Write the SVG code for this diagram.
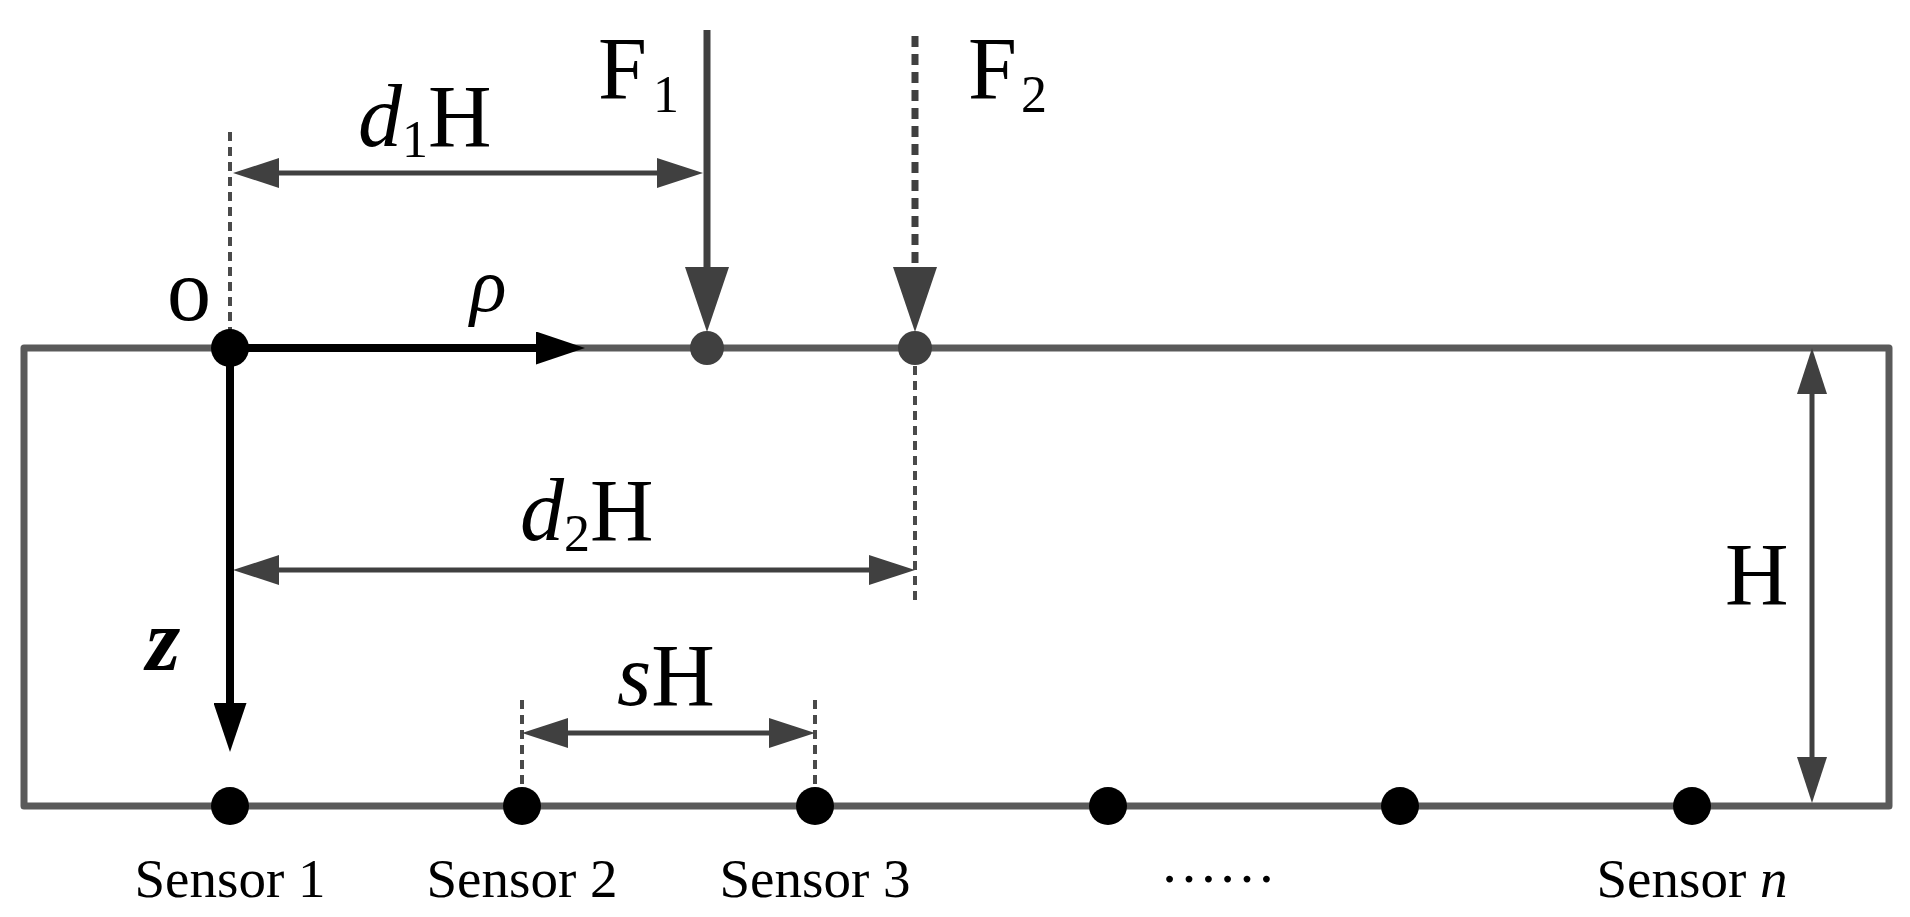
<svg xmlns="http://www.w3.org/2000/svg" width="1910" height="917" viewBox="0 0 1910 917">
<style>
text{font-family:"Liberation Serif","Times New Roman",serif;fill:#000}
.big{font-size:88px}
.lbl{font-size:55px;text-anchor:middle}
.it{font-style:italic}
.dim{stroke:#404040;stroke-width:5;fill:none;marker-start:url(#ad);marker-end:url(#ad)}
.guide{stroke:#4a4a4a;stroke-width:4;stroke-dasharray:9 6;fill:none}
.axis{stroke:#000;stroke-width:8;fill:none;marker-end:url(#ax)}
.force{stroke:#404040;stroke-width:7;fill:none;marker-end:url(#af)}
</style>
<defs>
<marker id="ad" markerUnits="userSpaceOnUse" markerWidth="46" markerHeight="30" viewBox="0 0 46 30" refX="6" refY="15" orient="auto-start-reverse"><path d="M0,0 L46,15 L0,30 Z" fill="#404040"/></marker>
<marker id="af" markerUnits="userSpaceOnUse" markerWidth="65" markerHeight="44" viewBox="0 0 65 44" refX="5" refY="22" orient="auto"><path d="M0,0 L65,22 L0,44 Z" fill="#404040"/></marker>
<marker id="ax" markerUnits="userSpaceOnUse" markerWidth="49" markerHeight="33" viewBox="0 0 49 33" refX="9" refY="16.5" orient="auto"><path d="M0,0 L49,16.5 L0,33 Z" fill="#000"/></marker>
</defs>
<rect width="1910" height="917" fill="#fff"/>
<g id="body">
<rect x="24" y="348" width="1865" height="458" fill="none" stroke="#5a5a5a" stroke-width="7" stroke-linejoin="round"/>
</g>
<g id="connectors">
<line class="guide" x1="230" y1="132" x2="230" y2="330"/>
<line class="guide" x1="915" y1="366" x2="915" y2="604"/>
<line class="guide" x1="522" y1="700" x2="522" y2="790"/>
<line class="guide" x1="815" y1="700" x2="815" y2="790"/>
<line class="dim" x1="273" y1="173" x2="663" y2="173"/>
<line class="dim" x1="273" y1="570" x2="875" y2="570"/>
<line class="dim" x1="562" y1="733" x2="775" y2="733"/>
<line class="dim" x1="1812" y1="388" x2="1812" y2="763"/>
<line class="force" x1="707" y1="30" x2="707" y2="272"/>
<line class="force" x1="915" y1="36" x2="915" y2="272" stroke-dasharray="11 7"/>
<line class="axis" x1="230" y1="348" x2="545" y2="348"/>
<line class="axis" x1="230" y1="348" x2="230" y2="712"/>
</g>
<g id="origin"><circle cx="230" cy="348" r="19" fill="#000"/><text class="big" x="167" y="320">o</text><text class="it" x="470" y="311" font-size="76">ρ</text><text class="it" x="146" y="670" font-size="88" font-weight="bold">z</text></g>
<g id="load-points"><circle cx="707" cy="348" r="17" fill="#404040"/><circle cx="915" cy="348" r="17" fill="#404040"/></g>
<g id="F1"><text class="big" x="598" y="98">F<tspan font-size="52" dx="6" dy="14">1</tspan></text></g>
<g id="F2"><text class="big" x="968" y="98">F<tspan font-size="52" dx="4" dy="14">2</tspan></text></g>
<g id="d1H"><text class="big" x="358" y="146"><tspan class="it">d</tspan><tspan font-size="52" dy="11">1</tspan><tspan dy="-11">H</tspan></text></g>
<g id="d2H"><text class="big" x="520" y="540"><tspan class="it">d</tspan><tspan font-size="52" dy="11">2</tspan><tspan dy="-11">H</tspan></text></g>
<g id="sH"><text class="big" x="617" y="705"><tspan class="it">s</tspan>H</text></g>
<g id="Hlabel"><text class="big" x="1725" y="604">H</text></g>
<g id="sensor1"><circle cx="230" cy="806" r="19" fill="#000"/><text class="lbl" x="230" y="897">Sensor 1</text></g>
<g id="sensor2"><circle cx="522" cy="806" r="19" fill="#000"/><text class="lbl" x="522" y="897">Sensor 2</text></g>
<g id="sensor3"><circle cx="815" cy="806" r="19" fill="#000"/><text class="lbl" x="815" y="897">Sensor 3</text></g>
<g id="sensor4"><circle cx="1108" cy="806" r="19" fill="#000"/></g>
<g id="sensor5"><circle cx="1400" cy="806" r="19" fill="#000"/></g>
<g id="sensorN"><circle cx="1692" cy="806" r="19" fill="#000"/><text class="lbl" x="1692" y="897">Sensor <tspan class="it">n</tspan></text></g>
<g id="ellipsis"><text x="1218" y="882" font-size="58" text-anchor="middle">……</text></g>
</svg>
